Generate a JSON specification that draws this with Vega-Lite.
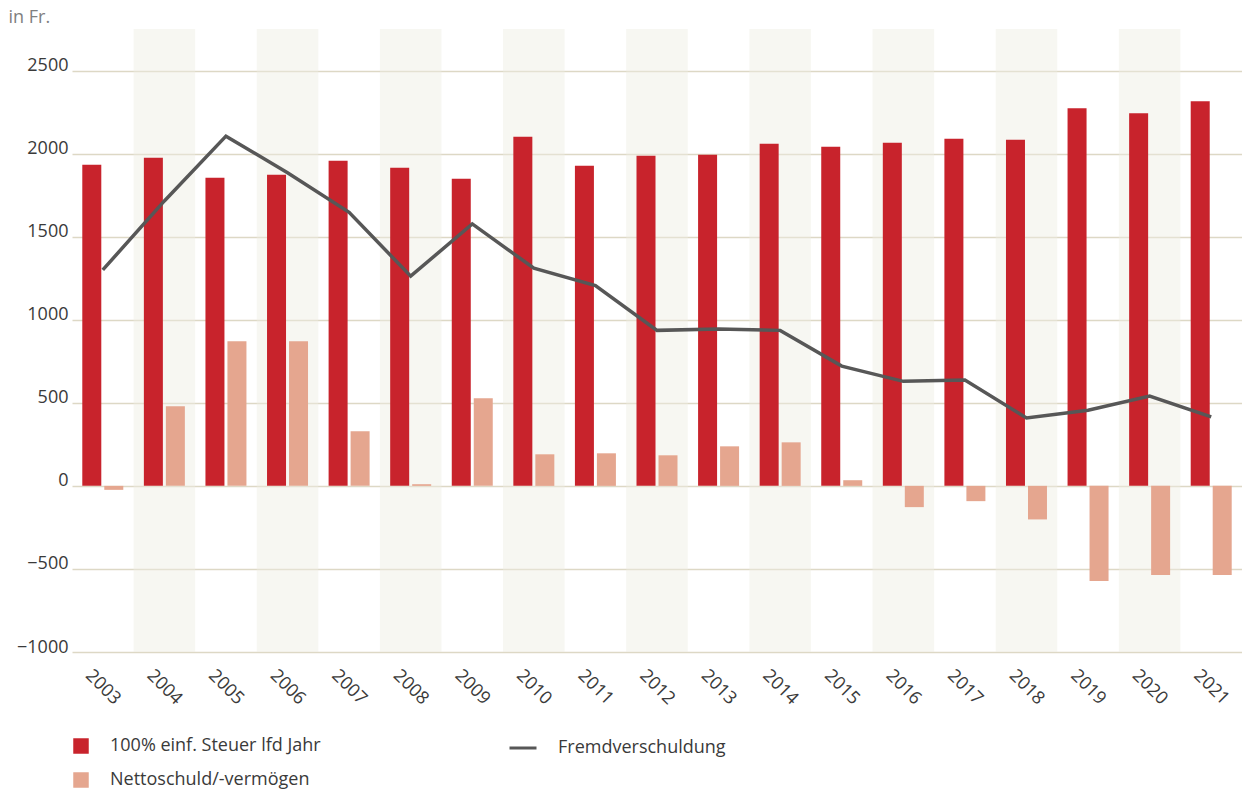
{
  "$schema": "https://vega.github.io/schema/vega-lite/v6.json",
  "width": 1170,
  "height": 623,
  "autosize": {"type": "none"},
  "padding": {"left": 72, "top": 29, "right": 0, "bottom": 139},
  "background": "white",
  "config": {
    "view": {"stroke": null},
    "font": "Open Sans",
    "axisY": {
      "grid": true, "gridColor": "#ddd8c5", "gridWidth": 1.5,
      "domain": false, "ticks": false,
      "labelFontSize": 18, "labelColor": "#3a3a3a", "labelPadding": 4, "labelBaseline": "alphabetic",
      "titleAngle": 0, "titleAlign": "left", "titleBaseline": "middle",
      "titleX": -64, "titleY": -12, "titleFontSize": 18, "titleFontWeight": "normal", "titleColor": "#808080"
    },
    "axisX": {
      "grid": false, "domain": false, "ticks": false,
      "labelAngle": 45, "labelAlign": "center", "labelBaseline": "middle",
      "labelPadding": 35, "labelFontSize": 18, "labelColor": "#3a3a3a"
    },
    "legend": {"labelFontSize": 18, "labelColor": "#3a3a3a", "padding": 0, "labelOffset": 20, "rowPadding": 16, "labelLimit": 400}
  },
  "datasets": {
    "bands": [
      {"year": "2004"}, {"year": "2006"}, {"year": "2008"}, {"year": "2010"}, {"year": "2012"},
      {"year": "2014"}, {"year": "2016"}, {"year": "2018"}, {"year": "2020"}
    ],
    "bars": [
      {"year": "2003", "series": "100% einf. Steuer lfd Jahr", "value": 1933},
      {"year": "2004", "series": "100% einf. Steuer lfd Jahr", "value": 1975},
      {"year": "2005", "series": "100% einf. Steuer lfd Jahr", "value": 1855},
      {"year": "2006", "series": "100% einf. Steuer lfd Jahr", "value": 1873},
      {"year": "2007", "series": "100% einf. Steuer lfd Jahr", "value": 1957},
      {"year": "2008", "series": "100% einf. Steuer lfd Jahr", "value": 1915},
      {"year": "2009", "series": "100% einf. Steuer lfd Jahr", "value": 1849},
      {"year": "2010", "series": "100% einf. Steuer lfd Jahr", "value": 2102},
      {"year": "2011", "series": "100% einf. Steuer lfd Jahr", "value": 1927},
      {"year": "2012", "series": "100% einf. Steuer lfd Jahr", "value": 1987},
      {"year": "2013", "series": "100% einf. Steuer lfd Jahr", "value": 1993},
      {"year": "2014", "series": "100% einf. Steuer lfd Jahr", "value": 2059},
      {"year": "2015", "series": "100% einf. Steuer lfd Jahr", "value": 2041},
      {"year": "2016", "series": "100% einf. Steuer lfd Jahr", "value": 2065},
      {"year": "2017", "series": "100% einf. Steuer lfd Jahr", "value": 2089},
      {"year": "2018", "series": "100% einf. Steuer lfd Jahr", "value": 2083},
      {"year": "2019", "series": "100% einf. Steuer lfd Jahr", "value": 2273},
      {"year": "2020", "series": "100% einf. Steuer lfd Jahr", "value": 2243},
      {"year": "2021", "series": "100% einf. Steuer lfd Jahr", "value": 2315},
      {"year": "2003", "series": "Nettoschuld/-vermögen", "value": -24},
      {"year": "2004", "series": "Nettoschuld/-vermögen", "value": 479},
      {"year": "2005", "series": "Nettoschuld/-vermögen", "value": 870},
      {"year": "2006", "series": "Nettoschuld/-vermögen", "value": 870},
      {"year": "2007", "series": "Nettoschuld/-vermögen", "value": 329},
      {"year": "2008", "series": "Nettoschuld/-vermögen", "value": 10},
      {"year": "2009", "series": "Nettoschuld/-vermögen", "value": 527},
      {"year": "2010", "series": "Nettoschuld/-vermögen", "value": 190},
      {"year": "2011", "series": "Nettoschuld/-vermögen", "value": 196},
      {"year": "2012", "series": "Nettoschuld/-vermögen", "value": 184},
      {"year": "2013", "series": "Nettoschuld/-vermögen", "value": 238},
      {"year": "2014", "series": "Nettoschuld/-vermögen", "value": 262},
      {"year": "2015", "series": "Nettoschuld/-vermögen", "value": 34},
      {"year": "2016", "series": "Nettoschuld/-vermögen", "value": -128},
      {"year": "2017", "series": "Nettoschuld/-vermögen", "value": -92},
      {"year": "2018", "series": "Nettoschuld/-vermögen", "value": -202},
      {"year": "2019", "series": "Nettoschuld/-vermögen", "value": -573},
      {"year": "2020", "series": "Nettoschuld/-vermögen", "value": -537},
      {"year": "2021", "series": "Nettoschuld/-vermögen", "value": -537}
    ],
    "line": [
      {"year": "2003", "value": 1300},
      {"year": "2004", "value": 1715},
      {"year": "2005", "value": 2105},
      {"year": "2006", "value": 1885},
      {"year": "2007", "value": 1647},
      {"year": "2008", "value": 1262},
      {"year": "2009", "value": 1577},
      {"year": "2010", "value": 1310},
      {"year": "2011", "value": 1206},
      {"year": "2012", "value": 936},
      {"year": "2013", "value": 944},
      {"year": "2014", "value": 936},
      {"year": "2015", "value": 721},
      {"year": "2016", "value": 629},
      {"year": "2017", "value": 637},
      {"year": "2018", "value": 409},
      {"year": "2019", "value": 455},
      {"year": "2020", "value": 541},
      {"year": "2021", "value": 415}
    ]
  },
  "encoding": {
    "x": {
      "field": "year", "type": "ordinal", "title": null,
      "scale": {
        "domain": ["2003","2004","2005","2006","2007","2008","2009","2010","2011","2012","2013","2014","2015","2016","2017","2018","2019","2020","2021"],
        "paddingInner": 0, "paddingOuter": 0
      }
    }
  },
  "layer": [
    {
      "data": {"name": "bands"},
      "mark": {"type": "bar", "color": "#eeeee2", "opacity": 0.45},
      "encoding": {
        "y": {"datum": 2750, "type": "quantitative", "title": "in Fr.",
              "scale": {"domain": [-1000, 2750], "nice": false, "zero": false},
              "axis": {"values": [-1000, -500, 0, 500, 1000, 1500, 2000, 2500], "format": "d"}},
        "y2": {"datum": -1000}
      }
    },
    {
      "data": {"name": "bars"},
      "mark": {"type": "bar"},
      "encoding": {
        "y": {"field": "value", "type": "quantitative", "title": "in Fr.",
              "scale": {"domain": [-1000, 2750], "nice": false, "zero": false},
              "axis": {"values": [-1000, -500, 0, 500, 1000, 1500, 2000, 2500], "format": "d"}},
        "xOffset": {"field": "series", "type": "nominal", "scale": {"domain": ["100% einf. Steuer lfd Jahr", "Nettoschuld/-vermögen"], "paddingInner": 0.136, "paddingOuter": 0.468}},
        "fill": {
          "field": "series", "type": "nominal",
          "scale": {"domain": ["100% einf. Steuer lfd Jahr", "Nettoschuld/-vermögen"], "range": ["#c8232c", "#e5a68f"]},
          "legend": {"orient": "none", "legendX": 0, "legendY": 708, "direction": "vertical", "title": null, "symbolType": "square", "symbolSize": 240, "symbolStrokeWidth": 0}
        }
      }
    },
    {
      "data": {"name": "line"},
      "mark": {"type": "line", "strokeWidth": 3.5},
      "encoding": {
        "y": {"field": "value", "type": "quantitative", "title": "in Fr.",
              "scale": {"domain": [-1000, 2750], "nice": false, "zero": false},
              "axis": {"values": [-1000, -500, 0, 500, 1000, 1500, 2000, 2500], "format": "d"}},
        "stroke": {
          "datum": "Fremdverschuldung", "type": "nominal",
          "scale": {"range": ["#575757"]},
          "legend": {"orient": "none", "legendX": 436, "legendY": 704, "title": null, "symbolType": "stroke", "symbolSize": 729, "symbolStrokeWidth": 3}
        }
      }
    }
  ]
}
